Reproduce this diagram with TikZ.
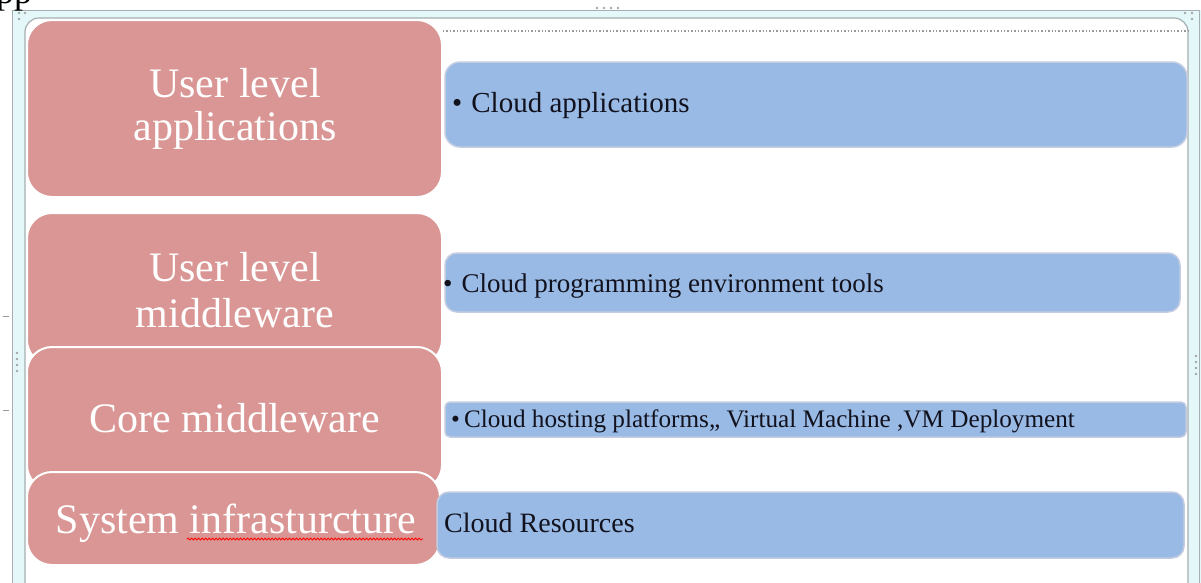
\documentclass[tikz,border=0pt]{standalone}
\usepackage{fontspec}
\setmainfont{Liberation Serif}
\usetikzlibrary{decorations.pathmorphing}
\definecolor{pinkbox}{RGB}{217,150,148}
\definecolor{bluebox}{RGB}{153,186,228}
\definecolor{blueedge}{RGB}{196,204,226}
\definecolor{frameband}{RGB}{228,248,249}
\definecolor{frameline}{RGB}{165,175,178}
\definecolor{bluetext}{RGB}{18,18,30}
\begin{document}
\begin{tikzpicture}[x=1pt,y=-1pt,
  layerbox/.style={rectangle,rounded corners=25,fill=pinkbox,draw=white,line width=2,inner sep=0},
  itembox/.style={rectangle,fill=bluebox,draw=blueedge,line width=1.5,inner sep=0},
  layertext/.style={text=white,inner sep=0,anchor=base,font=\fontsize{42}{46}\selectfont},
  itemtext/.style={text=bluetext,inner sep=0,anchor=base west},
  handle/.style={fill=gray!70,inner sep=0,minimum size=2.6,circle}]
\useasboundingbox (0,0) rectangle (1201,582);
\clip (0,0) rectangle (1201,582);
% frame of the text box
\fill[frameband] (12,10) rectangle (1201,600);
\draw[frameline,line width=1] (12,600) -- (12,10) -- (1199,10) -- (1199,600);
\draw[frameline,fill=white,line width=1.2,rounded corners=14] (25,600) -- (25,18) -- (1188,18) -- (1188,600);
\draw[gray!80,dotted,line width=1.4] (443,31) -- (1190,31);
% handles
\foreach \xx in {597,604,611,618}{\node[handle] at (\xx,8) {};}
\foreach \yy in {353,359,365,371}{\node[handle] at (17,\yy) {};}
\foreach \yy in {356,362,368,374}{\node[handle] at (1196,\yy) {};}
\node[handle] at (19,13) {};\node[handle] at (25,13) {};\node[handle] at (19,19) {};
\node[handle] at (1185,13) {};\node[handle] at (1192,13) {};\node[handle] at (1192,19) {};
\draw[gray!80,line width=0.8] (3,316) -- (9,316);
\draw[gray!80,line width=0.8] (3,410) -- (9,410);
% clipped line of text above
\node[inner sep=0,anchor=base west,font=\fontsize{36}{40}\selectfont] (prev) at (-4,3) {pp};
% left stack
\node[layerbox,minimum width=415,minimum height=177] (l1) at (234.5,108.5) {};
\node[layerbox,minimum width=415,minimum height=152] (l2) at (234.5,289) {};
\node[layerbox,minimum width=415,minimum height=143] (l3) at (234.5,418.5) {};
\node[layerbox,minimum width=413,minimum height=93] (l4) at (233.5,518.5) {};
\node[layertext] (t1a) at (235,97) {User level};
\node[layertext] (t1b) at (235,140) {applications};
\node[layertext] (t2a) at (235,281) {User level};
\node[layertext] (t2b) at (235,327) {middleware};
\node[layertext] (t3) at (235,432) {Core middleware};
\node[layertext] (t4) at (236,533) {System infrasturcture};
\draw[red,line width=0.8,decorate,decoration={snake,amplitude=1,segment length=3.5}] (187,539) -- (423,539);
% right items
\node[itembox,rounded corners=15,minimum width=742,minimum height=85] (r1) at (816,104.5) {};
\node[itembox,rounded corners=12,minimum width=735,minimum height=59] (r2) at (812.5,282.5) {};
\node[itembox,rounded corners=5,minimum width=741,minimum height=35] (r3) at (815.5,419.5) {};
\node[itembox,rounded corners=12,minimum width=747,minimum height=66] (r4) at (810.5,525) {};
\node[itemtext,font=\fontsize{29}{32}\selectfont] (s1) at (452,112) {•\hspace{9pt}Cloud applications};
\node[itemtext,font=\fontsize{27}{30}\selectfont] (s2) at (443,292) {•\hspace{9pt}Cloud programming environment tools};
\node[itemtext,font=\fontsize{25.2}{28}\selectfont] (s3) at (451,427) {•\hspace{4pt}Cloud hosting platforms,, Virtual Machine ,VM Deployment};
\node[itemtext,font=\fontsize{28}{31}\selectfont] (s4) at (444,532) {Cloud Resources};
\end{tikzpicture}
\end{document}
